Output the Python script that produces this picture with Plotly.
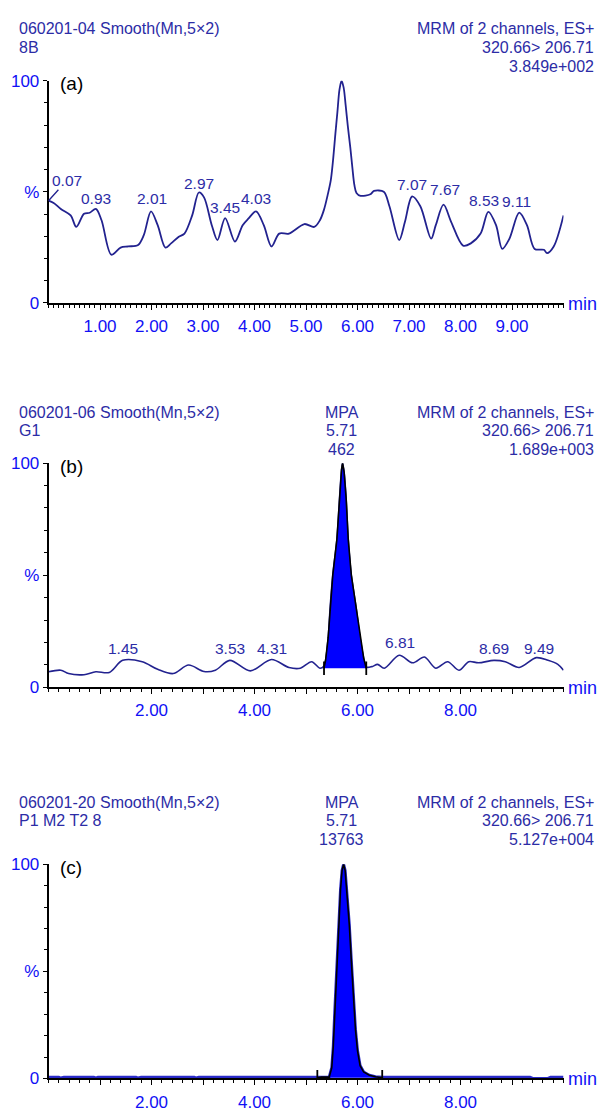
import plotly.graph_objects as go

W, H = 602, 1115

# ---------------- data ----------------
# Panel (a): chromatogram 8B
a_time = [0.00, 0.10, 0.24, 0.43, 0.54, 0.69, 0.80, 0.92, 1.03, 1.22, 1.40, 1.55, 1.74, 1.85,
          1.99, 2.12, 2.27, 2.38, 2.53, 2.64, 2.79, 2.92, 3.02, 3.17, 3.28, 3.43, 3.62, 3.77,
          3.88, 4.03, 4.18, 4.33, 4.48, 4.67, 4.97, 5.16, 5.27, 5.35, 5.42, 5.48, 5.52, 5.57,
          5.61, 5.65, 5.69, 5.73, 5.77, 5.81, 5.86, 5.90, 5.94, 5.98, 6.06, 6.25, 6.32, 6.51,
          6.62, 6.81, 6.92, 7.06, 7.22, 7.43, 7.52, 7.67, 7.82, 8.05, 8.20, 8.39, 8.54, 8.69,
          8.81, 8.95, 9.14, 9.29, 9.44, 9.62, 9.68, 9.81, 10.00]
a_int = [46.0, 45.0, 42.3, 39.4, 34.2, 40.1, 40.6, 42.3, 37.2, 21.7, 24.9, 25.4, 26.1, 30.5,
         41.2, 35.0, 24.9, 26.8, 29.8, 31.2, 39.4, 49.7, 47.5, 35.0, 28.3, 38.2, 27.6, 35.0,
         37.9, 41.2, 35.0, 25.4, 31.2, 31.2, 35.5, 34.2, 37.2, 42.0, 48.5, 55.0, 63.0, 76.0,
         86.0, 96.0, 100.0, 97.0, 89.0, 80.0, 70.0, 61.0, 53.0, 49.5, 48.2, 48.9, 50.4, 50.0,
         43.5, 28.3, 36.4, 47.9, 43.5, 28.9, 35.0, 44.2, 36.4, 25.8, 26.8, 31.2, 41.0, 35.0,
         24.3, 28.9, 40.6, 35.0, 24.3, 23.9, 22.4, 25.4, 39.4]
a_lbl_text = ["0.93", "2.01", "2.97", "3.45", "4.03", "5.71", "7.07", "7.67", "8.53", "9.11"]
a_lbl_x = [0.92, 2.00, 2.92, 3.43, 4.03, 5.69, 7.06, 7.70, 8.45, 9.09]
a_lbl_y = [42.5, 42.5, 49.6, 38.5, 42.5, 103.1, 48.8, 46.6, 41.6, 41.2]
a_first_lbl = "0.07"
a_head_left = ["060201-04 Smooth(Mn,5\u00d72)", "8B"]
a_head_right = ["MRM of 2 channels, ES+", "320.66> 206.71", "3.849e+002"]

# Panel (b): chromatogram G1
b_time = [0.00, 0.24, 0.39, 0.69, 0.92, 1.18, 1.44, 1.82, 2.12, 2.42, 2.72, 3.02, 3.24, 3.52,
          3.92, 4.33, 4.67, 4.89, 5.11, 5.27, 5.35, 5.38, 5.43, 5.47, 5.52, 5.60, 5.65, 5.69,
          5.71, 5.74, 5.78, 5.82, 5.88, 5.97, 6.05, 6.12, 6.17, 6.28, 6.39, 6.52, 6.81, 7.07,
          7.30, 7.52, 7.75, 7.97, 8.16, 8.35, 8.65, 8.87, 9.14, 9.47, 9.70, 9.89, 10.00]
b_int = [6.9, 7.6, 6.1, 5.6, 6.9, 6.6, 12.0, 11.4, 8.0, 6.1, 9.9, 7.0, 7.6, 12.0,
         7.3, 12.4, 8.8, 8.5, 11.4, 8.5, 9.5, 12.0, 22.0, 36.0, 50.0, 66.0, 84.0, 97.0,
         100.0, 96.0, 84.0, 66.0, 50.0, 36.0, 22.0, 13.0, 9.0, 9.2, 10.2, 8.5, 14.3, 10.9,
         13.5, 8.5, 11.4, 7.6, 11.4, 10.9, 12.0, 11.4, 8.8, 13.2, 12.0, 10.2, 7.6]
b_lbl_text = ["1.45", "3.53", "4.31", "6.81", "8.69", "9.49"]
b_lbl_x = [1.44, 3.52, 4.34, 6.82, 8.65, 9.52]
b_lbl_y = [13.2, 13.2, 13.2, 15.9, 13.2, 13.2]
b_integ = [5.35, 6.17]
b_base = 8.5
b_head_left = ["060201-06 Smooth(Mn,5\u00d72)", "G1"]
b_head_mid = ["MPA", "5.71", "462"]
b_head_right = ["MRM of 2 channels, ES+", "320.66> 206.71", "1.689e+003"]

# Panel (c): chromatogram P1 M2 T2 8
c_time = [0.00, 0.20, 0.24, 0.30, 0.88, 0.92, 0.96, 1.70, 1.74, 1.80, 2.83, 2.87, 2.92, 4.00,
          5.00, 5.30, 5.45, 5.50, 5.53, 5.56, 5.60, 5.64, 5.67, 5.70, 5.73, 5.76, 5.80, 5.84,
          5.88, 5.92, 5.96, 6.00, 6.05, 6.12, 6.23, 6.35, 6.48, 7.00, 8.00, 9.00, 9.35, 9.40,
          9.70, 9.75, 10.00]
c_int = [0.6, 0.6, 0.2, 0.6, 0.6, 0.2, 0.6, 0.6, 0.2, 0.6, 0.6, 0.2, 0.6, 0.6,
         0.6, 0.6, 0.6, 5.0, 15.0, 32.0, 55.0, 75.0, 88.0, 97.0, 100.0, 97.0, 86.0, 72.0,
         55.0, 38.0, 23.0, 13.0, 6.0, 3.0, 1.5, 0.8, 0.6, 0.6, 0.6, 0.6, 0.6, 0.0,
         0.0, 0.6, 0.6]
c_integ = [5.22, 6.48]
c_base = 0.3
c_head_left = ["060201-20 Smooth(Mn,5\u00d72)", "P1 M2 T2 8"]
c_head_mid = ["MPA", "5.71", "13763"]
c_head_right = ["MRM of 2 channels, ES+", "320.66> 206.71", "5.127e+004"]

panel_tags = ["(a)", "(b)", "(c)"]
x_major_a = [1, 2, 3, 4, 5, 6, 7, 8, 9]
x_major_bc = [1, 2, 3, 4, 5, 6, 7, 8, 9]

# ---------------- styling / layout ----------------
FONT = "Liberation Sans, Arial, sans-serif"
NAVY = "#22228f"
TXT = "#2c2ca6"
BLUE = "#1010f5"
FILL = "#0000ff"

X0_PX, PX_PER_MIN, T_MAX = 48.5, 51.5, 10.0
PANELS = [dict(y0=299, y100=73), dict(y0=690, y100=462), dict(y0=1088, y100=870)]
HEAD_TOPS = [20, 410, 807]


def pxx(x):
    return x / W


def pxy(y):
    return 1 - y / H


fig = go.Figure()
annotations = []

x_dom = [pxx(X0_PX), pxx(X0_PX + T_MAX * PX_PER_MIN)]

for i, p in enumerate(PANELS):
    n = i + 1
    xa = "xaxis" if n == 1 else f"xaxis{n}"
    ya = "yaxis" if n == 1 else f"yaxis{n}"
    if n == 1:
        tv = x_major_a
        tt = [f"{v:.2f}" for v in x_major_a]
        minor_dt = 0.1
    else:
        tv = x_major_bc
        tt = [f"{v:.2f}" if v % 2 == 0 else "" for v in x_major_bc]
        minor_dt = 0.2
    fig.layout[xa] = dict(
        domain=x_dom, range=[0, T_MAX], anchor="y" if n == 1 else f"y{n}",
        showline=True, linecolor="black", linewidth=1.6,
        showgrid=False, zeroline=False,
        tickmode="array", tickvals=tv, ticktext=tt,
        ticks="outside", ticklen=5, tickwidth=1.2, tickcolor="black",
        tickfont=dict(family=FONT, size=17, color=BLUE),
        ticklabelstandoff=2,
        minor=dict(tickmode="linear", tick0=0, dtick=minor_dt, ticks="outside",
                   ticklen=3, tickwidth=1, tickcolor="black"),
        fixedrange=True,
    )
    fig.layout[ya] = dict(
        domain=[pxy(p["y0"]), pxy(p["y100"])], range=[0, 100],
        anchor="x" if n == 1 else f"x{n}",
        showline=True, linecolor="black", linewidth=1.6,
        showgrid=False, zeroline=False,
        tickmode="array", tickvals=[0, 50, 100], ticktext=["0", "%", "100"],
        ticks="outside", ticklen=4, tickwidth=1.2, tickcolor="black",
        tickfont=dict(family=FONT, size=17, color=BLUE),
        ticklabelstandoff=0,
        minor=dict(tickmode="linear", tick0=0, dtick=10, ticks="outside",
                   ticklen=3, tickwidth=1, tickcolor="black"),
        fixedrange=True,
    )
    # "min" label
    annotations.append(dict(xref="paper", yref="paper", x=pxx(566), y=pxy(p["y0"] + 1),
                            text="min", showarrow=False, xanchor="left", yanchor="middle",
                            font=dict(family=FONT, size=18, color=BLUE)))
    # panel tag
    annotations.append(dict(xref="paper", yref="paper", x=pxx(58), y=pxy(p["y100"] + 3),
                            text=panel_tags[i], showarrow=False, xanchor="left", yanchor="middle",
                            font=dict(family=FONT, size=19, color="black")))

# ----- traces -----
fig.add_trace(go.Scatter(x=a_time, y=a_int, mode="lines", xaxis="x", yaxis="y",
                         line=dict(color=NAVY, width=1.8, shape="spline", smoothing=0.9),
                         hoverinfo="skip"))
fig.add_trace(go.Scatter(x=b_time, y=b_int, mode="lines", xaxis="x2", yaxis="y2",
                         line=dict(color=NAVY, width=1.6, shape="spline", smoothing=0.9),
                         hoverinfo="skip"))
fig.add_trace(go.Scatter(x=c_time, y=c_int, mode="lines", xaxis="x3", yaxis="y3",
                         line=dict(color="#2a2ac8", width=3),
                         hoverinfo="skip"))


def add_peak(t, v, integ, base, xa, ya, tick_lo, tick_hi):
    sel = [(tt, vv) for tt, vv in zip(t, v) if integ[0] < tt < integ[1]]
    px = [integ[0]] + [s[0] for s in sel] + [integ[1]]
    py = [base] + [s[1] for s in sel] + [base]
    fig.add_trace(go.Scatter(x=px, y=py, mode="lines", fill="toself", fillcolor=FILL,
                             line=dict(color="black", width=1.6), xaxis=xa, yaxis=ya,
                             hoverinfo="skip"))
    for b in integ:
        fig.add_trace(go.Scatter(x=[b, b], y=[base - tick_lo, base + tick_hi], mode="lines",
                                 line=dict(color="black", width=1.8), xaxis=xa, yaxis=ya,
                                 hoverinfo="skip"))


add_peak(b_time, b_int, b_integ, b_base, "x2", "y2", 3.0, 3.0)
add_peak(c_time, c_int, c_integ, c_base, "x3", "y3", 1.5, 3.7)

# ----- peak labels -----
PK_FONT = dict(family=FONT, size=15.5, color=TXT)
for txt, x, y in zip(a_lbl_text, a_lbl_x, a_lbl_y):
    annotations.append(dict(xref="x", yref="y", x=x, y=y, text=txt, showarrow=False,
                            xanchor="center", yanchor="bottom", font=PK_FONT,
                            borderpad=0))
annotations.append(dict(xref="x", yref="y", x=a_time[0], y=a_int[0], text=a_first_lbl,
                        showarrow=True, arrowhead=0, arrowwidth=1.3, arrowcolor=NAVY,
                        ax=18, ay=-20, standoff=0, font=PK_FONT, borderpad=0))
for txt, x, y in zip(b_lbl_text, b_lbl_x, b_lbl_y):
    annotations.append(dict(xref="x2", yref="y2", x=x, y=y, text=txt, showarrow=False,
                            xanchor="center", yanchor="bottom", font=PK_FONT,
                            borderpad=0))

# ----- headers -----
HD_FONT = dict(family=FONT, size=16, color=TXT)
LINE_H = 19
headers = [
    (HEAD_TOPS[0], a_head_left, None, a_head_right),
    (HEAD_TOPS[1], b_head_left, b_head_mid, b_head_right),
    (HEAD_TOPS[2], c_head_left, c_head_mid, c_head_right),
]
for top, left, mid, right in headers:
    for k, s in enumerate(left):
        annotations.append(dict(xref="paper", yref="paper", x=pxx(17), y=pxy(top + k * LINE_H),
                                text=s, showarrow=False, xanchor="left", yanchor="middle",
                                font=HD_FONT))
    if mid:
        for k, s in enumerate(mid):
            annotations.append(dict(xref="paper", yref="paper", x=pxx(342),
                                    y=pxy(top + k * LINE_H), text=s, showarrow=False,
                                    xanchor="center", yanchor="middle", font=HD_FONT))
    for k, s in enumerate(right):
        annotations.append(dict(xref="paper", yref="paper", x=pxx(596), y=pxy(top + k * LINE_H),
                                text=s, showarrow=False, xanchor="right", yanchor="middle",
                                font=HD_FONT))

fig.update_layout(
    width=W, height=H,
    margin=dict(l=0, r=0, t=0, b=0),
    paper_bgcolor="white", plot_bgcolor="white",
    showlegend=False,
    annotations=annotations,
    font=dict(family=FONT),
)

fig.write_html("out.html", config={"displayModeBar": False})

# remove default page margin so the figure sits at the window's top-left corner
with open("out.html", encoding="utf-8") as f:
    html = f.read()
html = html.replace("<head>", "<head><style>html,body{margin:0;padding:0;overflow:hidden;}</style>", 1)
with open("out.html", "w", encoding="utf-8") as f:
    f.write(html)
